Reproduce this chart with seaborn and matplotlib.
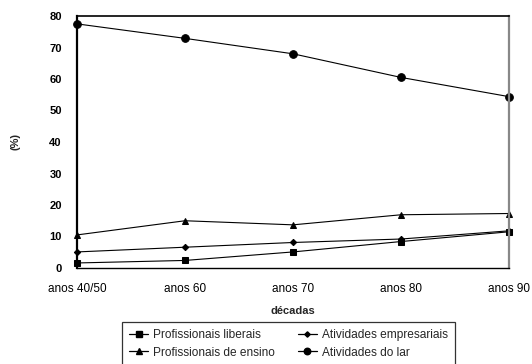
import matplotlib
matplotlib.use("Agg")
import matplotlib.pyplot as plt
import seaborn as sns
import pandas as pd
from matplotlib.lines import Line2D

decadas = ["anos 40/50", "anos 60", "anos 70", "anos 80", "anos 90"]
liberais = [1.6, 2.4, 5.1, 8.4, 11.5]
empresariais = [5.1, 6.6, 8.1, 9.2, 11.8]
ensino = [10.5, 15.0, 13.7, 16.9, 17.3]
lar = [77.5, 72.9, 68.0, 60.5, 54.4]

series = {
    "Profissionais liberais": liberais,
    "Atividades empresariais": empresariais,
    "Profissionais de ensino": ensino,
    "Atividades do lar": lar,
}
marcadores = {
    "Profissionais liberais": "s",
    "Atividades empresariais": "D",
    "Profissionais de ensino": "^",
    "Atividades do lar": "o",
}
tamanhos = {"s": 5, "D": 3.2, "^": 5, "o": 5.5}

df = pd.DataFrame(
    [(d, nome, v) for nome, vals in series.items() for d, v in zip(decadas, vals)],
    columns=["decada", "serie", "valor"],
)

sns.set_theme(style="white")
plt.rcParams["font.family"] = ["Liberation Sans", "DejaVu Sans"]

fig = plt.figure(figsize=(5.32, 3.64), dpi=100)
ax = fig.add_axes([77 / 532, 1 - 268 / 364, (509 - 77) / 532, (268 - 16) / 364])

for nome in series:
    sub = df[df["serie"] == nome]
    m = marcadores[nome]
    sns.lineplot(
        data=sub, x="decada", y="valor", ax=ax, color="black",
        marker=m, markersize=tamanhos[m], markeredgecolor="black",
        linewidth=0.8, sort=False, legend=False, clip_on=False,
    )

ax.set_xlim(0, len(decadas) - 1)
ax.set_ylim(0, 80)
ax.set_yticks(range(0, 81, 10))
ax.set_xticks(range(len(decadas)))
ax.set_xticklabels(decadas, fontsize=8.5)
for t in ax.get_yticklabels():
    t.set_fontsize(8)
    t.set_fontweight("bold")

ax.tick_params(axis="y", direction="out", length=3, width=0.8, pad=8, colors="black")
ax.tick_params(axis="x", direction="inout", length=6, width=0.8, pad=8, colors="black")
ax.tick_params(axis="both", labelcolor="black")

for lado, cor, lw in [("left", "black", 1.6), ("bottom", "black", 1.0),
                      ("top", "black", 1.2), ("right", "#888888", 1.6)]:
    ax.spines[lado].set_visible(True)
    ax.spines[lado].set_color(cor)
    ax.spines[lado].set_linewidth(lw)

ax.set_xlabel("décadas", fontsize=8, fontweight="bold", labelpad=8)
ax.set_ylabel("(%)", fontsize=8, fontweight="bold", labelpad=21)

ordem = ["Profissionais liberais", "Profissionais de ensino",
         "Atividades empresariais", "Atividades do lar"]
handles = [
    Line2D([], [], color="black", linewidth=0.9, marker=marcadores[n],
           markersize=tamanhos[marcadores[n]] * 0.85)
    for n in ordem
]
leg = fig.legend(
    handles, ordem, ncol=2, loc="upper left",
    bbox_to_anchor=(122 / 532, 1 - 322 / 364),
    fontsize=8.6, frameon=True, fancybox=False, handlelength=1.6,
    handletextpad=0.4, columnspacing=1.9, labelspacing=0.45,
    borderpad=0.6, borderaxespad=0,
)
leg.get_frame().set_edgecolor("black")
leg.get_frame().set_linewidth(0.9)

fig.savefig("out.png", dpi=100)
